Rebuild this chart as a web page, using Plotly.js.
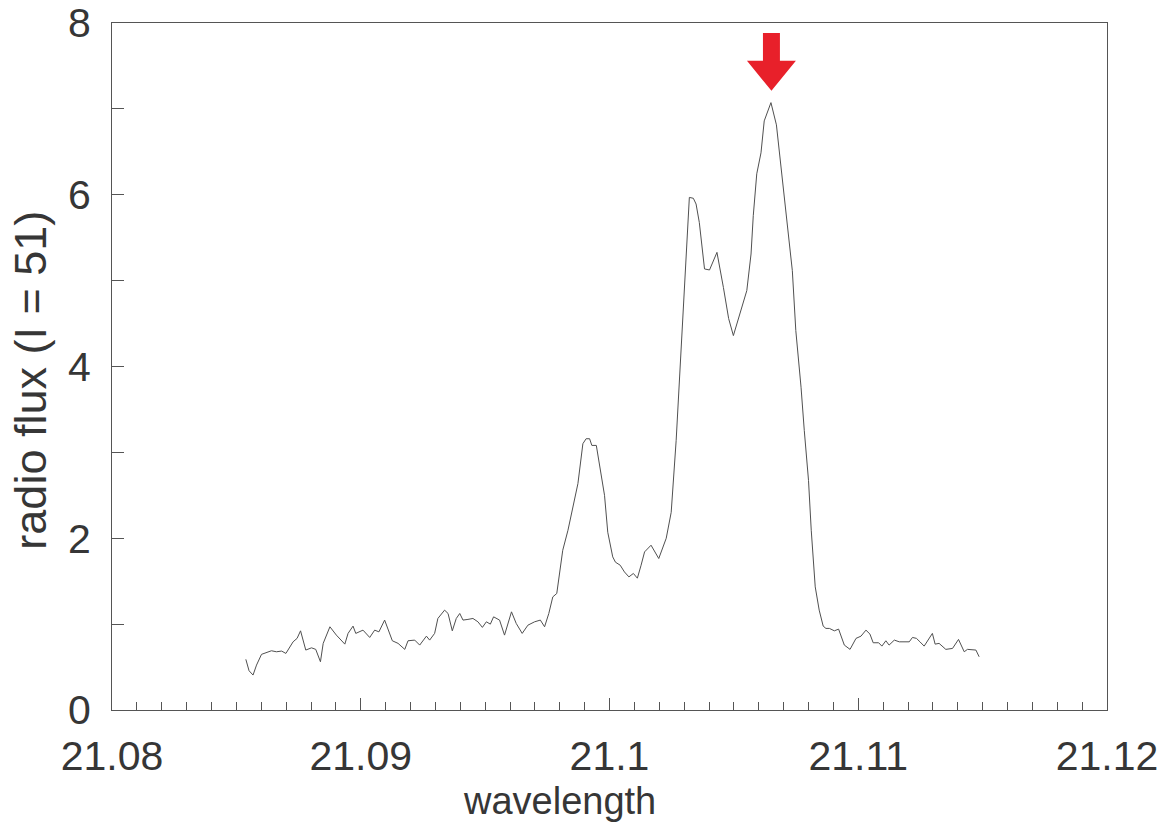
<!DOCTYPE html>
<html>
<head>
<meta charset="utf-8">
<script src="https://cdn.plot.ly/plotly-3.0.1.min.js"></script>
<style>
  html, body { margin: 0; padding: 0; background: #ffffff; }
  #chart { width: 1167px; height: 829px; }
</style>
</head>
<body>
<div id="chart"></div>
<script>
// wavelength values (x)
const wavelength = [
  21.08538, 21.08551, 21.08567, 21.08581, 21.08601, 21.08621, 21.08641, 21.08661, 21.08682, 21.08699,
  21.08728, 21.08744, 21.08758, 21.08779, 21.08802, 21.08819, 21.08838, 21.08849, 21.08876, 21.08902,
  21.08936, 21.08949, 21.08969, 21.08980, 21.09009, 21.09036, 21.09056, 21.09073, 21.09096, 21.09127,
  21.09150, 21.09177, 21.09190, 21.09217, 21.09237, 21.09264, 21.09277, 21.09297, 21.09310, 21.09337,
  21.09351, 21.09368, 21.09384, 21.09398, 21.09411, 21.09431, 21.09451, 21.09471, 21.09489, 21.09505,
  21.09521, 21.09534, 21.09558, 21.09578, 21.09596, 21.09606, 21.09625, 21.09649, 21.09672, 21.09699,
  21.09722, 21.09739, 21.09756, 21.09772, 21.09788, 21.09799, 21.09812, 21.09833, 21.09853, 21.09873,
  21.09893, 21.09906, 21.09920, 21.09929, 21.09947, 21.09967, 21.09980, 21.09993, 21.10013, 21.10024,
  21.10043, 21.10060, 21.10078, 21.10096, 21.10112, 21.10127, 21.10141, 21.10167, 21.10198, 21.10228,
  21.10248, 21.10268, 21.10284, 21.10301, 21.10321, 21.10337, 21.10348, 21.10361, 21.10382, 21.10402,
  21.10414, 21.10432, 21.10458, 21.10479, 21.10498, 21.10522, 21.10552, 21.10569, 21.10578, 21.10592,
  21.10609, 21.10622, 21.10649, 21.10671, 21.10683, 21.10703, 21.10716, 21.10735, 21.10749, 21.10770,
  21.10783, 21.10800, 21.10811, 21.10819, 21.10827, 21.10843, 21.10859, 21.10870, 21.10884, 21.10904,
  21.10921, 21.10944, 21.10967, 21.10991, 21.11011, 21.11031, 21.11047, 21.11060, 21.11082, 21.11095,
  21.11111, 21.11124, 21.11145, 21.11165, 21.11185, 21.11205, 21.11218, 21.11234, 21.11248, 21.11265,
  21.11298, 21.11309, 21.11325, 21.11352, 21.11379, 21.11403, 21.11426, 21.11439, 21.11473, 21.11486
];

// radio flux values (y)
const radioFlux = [
  0.590, 0.457, 0.407, 0.523, 0.648, 0.671, 0.690, 0.678, 0.686, 0.659,
  0.794, 0.834, 0.922, 0.698, 0.724, 0.706, 0.562, 0.776, 0.969, 0.872,
  0.767, 0.892, 0.977, 0.892, 0.930, 0.845, 0.930, 0.910, 1.047, 0.806,
  0.776, 0.706, 0.806, 0.814, 0.756, 0.860, 0.814, 0.892, 1.066, 1.163,
  1.124, 0.922, 1.066, 1.124, 1.047, 1.055, 1.066, 1.027, 0.962, 1.027,
  1.000, 1.085, 1.047, 0.872, 1.066, 1.143, 1.008, 0.892, 0.988, 1.027,
  1.047, 0.969, 1.124, 1.317, 1.357, 1.590, 1.860, 2.093, 2.364, 2.636,
  3.101, 3.159, 3.159, 3.081, 3.081, 2.713, 2.500, 2.070, 1.783, 1.721,
  1.686, 1.608, 1.550, 1.590, 1.535, 1.686, 1.841, 1.919, 1.764, 2.000,
  2.302, 3.140, 3.953, 4.922, 5.969, 5.959, 5.892, 5.678, 5.136, 5.124,
  5.209, 5.329, 4.919, 4.558, 4.360, 4.581, 4.884, 5.310, 5.756, 6.244,
  6.488, 6.860, 7.073, 6.814, 6.500, 6.023, 5.628, 5.116, 4.419, 3.759,
  3.256, 2.674, 2.093, 1.744, 1.434, 1.163, 0.977, 0.950, 0.950, 0.922,
  0.942, 0.756, 0.706, 0.834, 0.860, 0.930, 0.884, 0.783, 0.783, 0.744,
  0.806, 0.756, 0.814, 0.794, 0.794, 0.794, 0.845, 0.834, 0.794, 0.744,
  0.892, 0.767, 0.776, 0.706, 0.717, 0.822, 0.678, 0.706, 0.698, 0.620
];

// axis tick labels
const xTickVals = [21.08, 21.09, 21.10, 21.11, 21.12];
const xTickText = ["21.08", "21.09", "21.1", "21.11", "21.12"];
const yTickVals = [0, 2, 4, 6, 8];
const yTickText = ["0", "2", "4", "6", "8"];

// marked peak (arrow tip position)
const peakWavelength = 21.10651;
const peakArrowBottom = 7.21;

const FONT = "Arial, 'Liberation Sans', Helvetica, sans-serif";
const TEXT = "#363636";
const AXIS = "#555555";

const trace = {
  x: wavelength,
  y: radioFlux,
  type: "scatter",
  mode: "lines",
  line: { color: "#505050", width: 1 },
  hoverinfo: "x+y",
  showlegend: false
};

// block arrow geometry (styling), built around the peak position
const headHalf = 0.000984, shaftHalf = 0.000341;
const headBase = peakArrowBottom + 0.35, shaftTop = peakArrowBottom + 0.675;
const arrowPath =
  "M " + peakWavelength + "," + peakArrowBottom +
  " L " + (peakWavelength - headHalf) + "," + headBase +
  " L " + (peakWavelength - shaftHalf) + "," + headBase +
  " L " + (peakWavelength - shaftHalf) + "," + shaftTop +
  " L " + (peakWavelength + shaftHalf) + "," + shaftTop +
  " L " + (peakWavelength + shaftHalf) + "," + headBase +
  " L " + (peakWavelength + headHalf) + "," + headBase + " Z";

const layout = {
  width: 1167,
  height: 829,
  paper_bgcolor: "#ffffff",
  plot_bgcolor: "#ffffff",
  margin: { l: 112, r: 60, t: 23, b: 119, pad: 0 },
  font: { family: FONT, color: TEXT, size: 41 },
  xaxis: {
    range: [21.08, 21.12],
    tickmode: "array",
    tickvals: xTickVals,
    ticktext: xTickText,
    ticks: "inside",
    ticklen: 12,
    tickwidth: 1,
    tickcolor: AXIS,
    showline: true,
    linecolor: AXIS,
    linewidth: 1,
    mirror: true,
    showgrid: false,
    zeroline: false,
    ticklabelstandoff: 10,
    tickfont: { family: FONT, size: 41, color: TEXT },
    minor: { dtick: 0.001, tick0: 21.08, ticks: "inside", ticklen: 8, tickwidth: 1, tickcolor: AXIS, showgrid: false }
  },
  yaxis: {
    range: [0, 8],
    tickmode: "array",
    tickvals: yTickVals,
    ticktext: yTickText,
    ticks: "inside",
    ticklen: 12,
    tickwidth: 1,
    tickcolor: AXIS,
    showline: true,
    linecolor: AXIS,
    linewidth: 1,
    mirror: true,
    showgrid: false,
    zeroline: false,
    ticklabelstandoff: 12,
    tickfont: { family: FONT, size: 41, color: TEXT },
    minor: { dtick: 1, tick0: 0, ticks: "inside", ticklen: 12, tickwidth: 1, tickcolor: AXIS, showgrid: false }
  },
  shapes: [
    { type: "path", xref: "x", yref: "y", path: arrowPath, fillcolor: "#e8202a", line: { width: 0 } }
  ],
  annotations: [
    { text: "wavelength", xref: "paper", yref: "paper", x: 0.45, y: -0.133,
      xanchor: "center", yanchor: "middle", showarrow: false,
      font: { family: FONT, size: 38, color: TEXT } },
    { text: "radio flux (I = 51)", xref: "paper", yref: "paper", x: -0.082, y: 0.48,
      xanchor: "center", yanchor: "middle", textangle: -90, showarrow: false,
      font: { family: FONT, size: 45, color: TEXT } }
  ]
};

Plotly.newPlot("chart", [trace], layout, { displayModeBar: false, staticPlot: true });
</script>
</body>
</html>
